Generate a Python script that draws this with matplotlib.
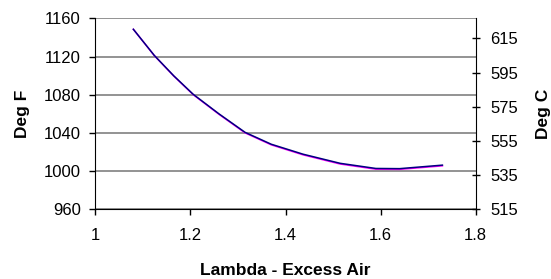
import matplotlib
matplotlib.use('Agg')
import matplotlib.pyplot as plt

# lambda (excess air) vs exhaust temperature
lam = [1.08, 1.124, 1.165, 1.206, 1.26, 1.315, 1.37, 1.437,
       1.515, 1.59, 1.64, 1.73]
deg_f = [1148.5, 1121, 1099.5, 1080, 1059.5, 1040, 1027.5, 1017,
         1007.4, 1002, 1001.8, 1005.5]
deg_c = [(f - 32) * 5 / 9 for f in deg_f]

x_ticks = [1, 1.2, 1.4, 1.6, 1.8]
x_labels = ['1', '1.2', '1.4', '1.6', '1.8']
f_ticks = [960, 1000, 1040, 1080, 1120, 1160]
c_ticks = [515, 535, 555, 575, 595, 615]

plt.rcParams['font.family'] = ['Liberation Sans', 'DejaVu Sans']

fig = plt.figure(figsize=(5.51, 2.79), dpi=100)
ax = fig.add_axes([0.173, 0.2498, 0.6903, 0.6846])

ax.plot(lam, deg_f, color='#ff00ff', lw=1.1)
ax.set_xlim(1, 1.8)
ax.set_ylim(960, 1160)
ax.set_xticks(x_ticks)
ax.set_xticklabels(x_labels)
ax.set_yticks(f_ticks)
ax.grid(axis='y', color='#808080', lw=1.2)
ax.set_axisbelow(True)
for s in ['top', 'right']:
    ax.spines[s].set_visible(False)
ax.tick_params(direction='out', length=4, width=1, labelsize=12)
ax.tick_params(axis='y', pad=6.5)
ax.tick_params(axis='x', pad=9.5)
ax.set_xlabel('Lambda - Excess Air', fontsize=12.5, fontweight='bold', labelpad=14)
ax.set_ylabel('Deg F', fontsize=12.5, fontweight='bold', labelpad=10)

ax2 = ax.twinx()
ax2.plot(lam, deg_c, color='#000080', lw=1.1)
ax2.set_ylim(515, 626.7)
ax2.set_yticks(c_ticks)
for s in ['top', 'left', 'bottom']:
    ax2.spines[s].set_visible(False)
ax2.tick_params(direction='inout', length=5.8, width=1, labelsize=12, pad=7.5)
ax2.set_ylabel('Deg C', fontsize=12.5, fontweight='bold', labelpad=13)

fig.savefig('out.png', dpi=100)
